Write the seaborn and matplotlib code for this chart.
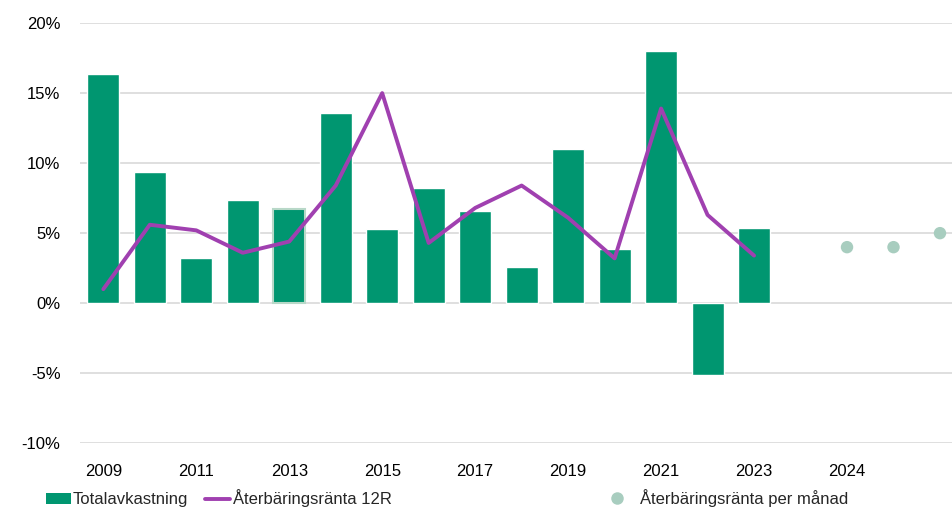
import numpy as np
import pandas as pd
import matplotlib
matplotlib.use("Agg")
import matplotlib.pyplot as plt
import seaborn as sns
from matplotlib.patches import Patch
from matplotlib.lines import Line2D

# Data (percent)
years = [str(y) for y in range(2009, 2024)]
totalavkastning = [16.4, 9.4, 3.2, 7.4, 6.7, 13.6, 5.3, 8.2, 6.6, 2.6, 11.0, 3.9, 18.0, -5.1, 5.4]
ranta_12r = [1.0, 5.6, 5.2, 3.6, 4.4, 8.4, 15.0, 4.3, 6.8, 8.4, 6.1, 3.2, 13.9, 6.3, 3.4]
months = ["jan 2024", "feb 2024", "mar 2024"]
ranta_manad = [4.0, 4.0, 5.0]

# one empty slot between the yearly values and the monthly values
categories = years + [""] + months
tick_labels = [c if c.isdigit() else "" for c in categories]
tick_labels[len(years) + 1] = "2024"

green = "#009670"
purple = "#A040B0"
dot = "#A8CDBF"

sns.set_style("white")
plt.rcParams["font.family"] = ["Liberation Sans", "DejaVu Sans"]

fig, ax = plt.subplots(figsize=(9.53, 5.13), dpi=100)
fig.subplots_adjust(left=0.084, right=1.0, bottom=0.136, top=0.955)

bars = pd.DataFrame({"kategori": years, "varde": totalavkastning})
sns.barplot(data=bars, x="kategori", y="varde", order=categories, color=green,
            saturation=1, width=0.69, ax=ax, zorder=2)
# 2013 bar is highlighted with a pale outline
ax.patches[years.index("2013")].set_edgecolor("#B8D8C8")
ax.patches[years.index("2013")].set_linewidth(1.5)

line = pd.DataFrame({"pos": np.arange(len(years)), "varde": ranta_12r})
sns.lineplot(data=line, x="pos", y="varde", color=purple, linewidth=2.8, ax=ax, zorder=3)

month_pos = len(years) + 1 + np.arange(len(months))
pts = pd.DataFrame({"pos": month_pos, "varde": ranta_manad})
sns.scatterplot(data=pts, x="pos", y="varde", color=dot, s=80, edgecolor="none", ax=ax, zorder=3)

ax.set_xlim(-0.5, len(categories) - 0.72)
ax.set_ylim(-10, 20)
ax.set_yticks(range(-10, 21, 5))
ax.set_yticklabels([f"{v}%" for v in range(-10, 21, 5)])
ax.set_xticks(range(0, len(categories), 2))
ax.set_xticklabels([tick_labels[i] for i in range(0, len(categories), 2)])
ax.set_xlabel("")
ax.set_ylabel("")
ax.tick_params(axis="both", length=0, labelsize=12, colors="black")
ax.tick_params(axis="y", pad=14)
ax.tick_params(axis="x", pad=15)
ax.grid(axis="y", color="#D9D9D9", linewidth=1.2, zorder=0)
ax.set_axisbelow(True)
sns.despine(ax=ax, left=True, bottom=True)

# legend: first two entries packed at the left, the monthly dot further right
h1 = [Patch(facecolor=green, edgecolor="none"),
      Line2D([0], [0], color=purple, linewidth=2.8)]
fig.legend(h1, ["Totalavkastning", "Återbäringsränta 12R"], loc="center left",
           bbox_to_anchor=(0.039, 0.029), ncol=2, frameon=False, fontsize=12,
           borderpad=0, handlelength=1.5, handleheight=0.6,
           handletextpad=0.15, columnspacing=1.0)
h2 = [Line2D([0], [0], marker="o", color="none", markerfacecolor=dot,
             markeredgecolor="none", markersize=9)]
fig.legend(h2, ["Återbäringsränta per månad"], loc="center left",
           bbox_to_anchor=(0.63, 0.029), frameon=False, fontsize=12,
           borderpad=0, handlelength=1.0, handletextpad=0.9)

fig.savefig("out.png", dpi=100)
